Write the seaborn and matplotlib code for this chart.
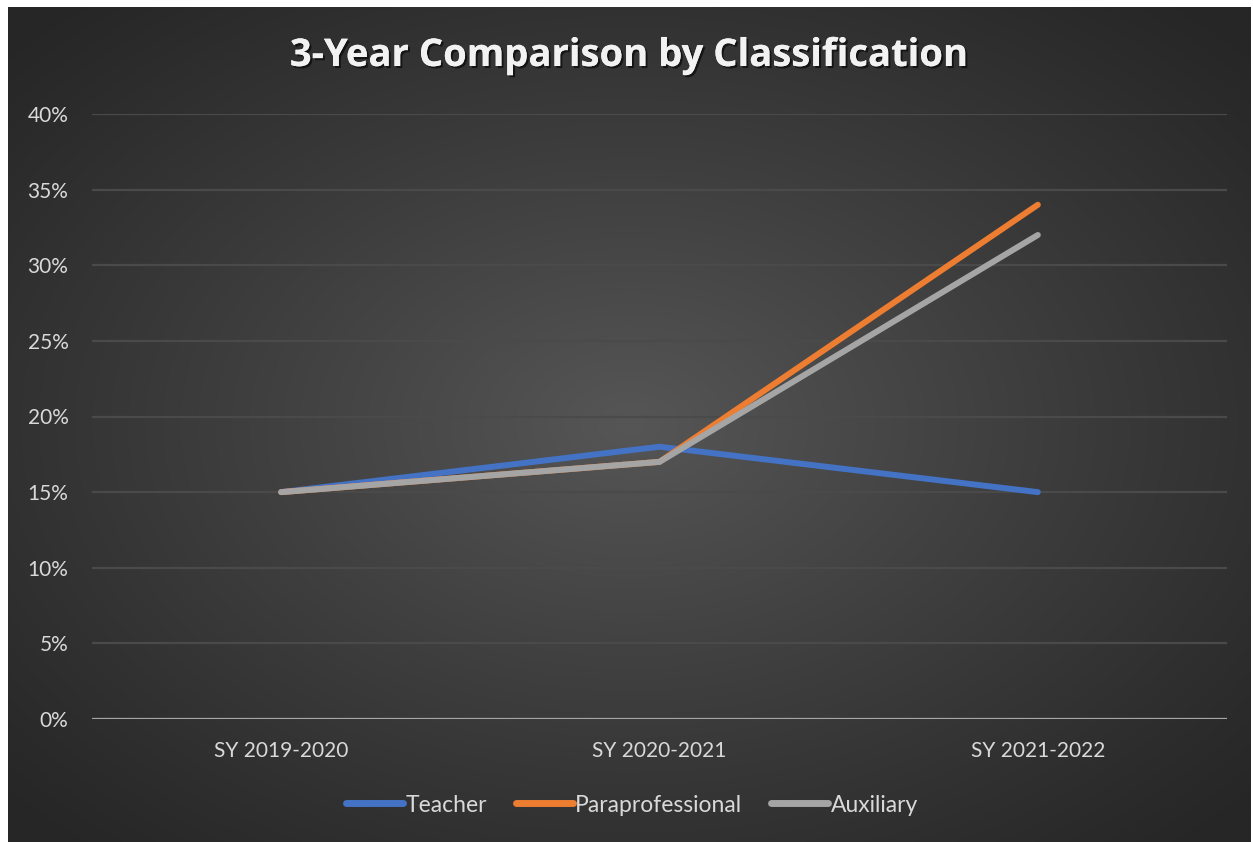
import numpy as np
import pandas as pd
import matplotlib
matplotlib.use("Agg")
import matplotlib.pyplot as plt
import matplotlib.patheffects as pe
from matplotlib.ticker import FuncFormatter
from matplotlib.lines import Line2D
import seaborn as sns

years = ["SY 2019-2020", "SY 2020-2021", "SY 2021-2022"]
teacher = [15, 18, 15]
paraprofessional = [15, 17, 34]
auxiliary = [15, 17, 32]
series_names = ["Teacher", "Paraprofessional", "Auxiliary"]
colors = ["#4472C4", "#ED7D31", "#A5A5A5"]
title = "3-Year Comparison by Classification"

rows = []
for name, vals in zip(series_names, [teacher, paraprofessional, auxiliary]):
    for i, (yr, v) in enumerate(zip(years, vals)):
        rows.append({"Year": yr, "pos": i + 0.5, "Value": v, "Series": name})
df = pd.DataFrame(rows)

sns.set_theme(style="dark")
plt.rcParams['font.family'] = ['Lato', 'DejaVu Sans']

W, H = 1253, 842
fig = plt.figure(figsize=(W / 100, H / 100), dpi=100, facecolor="white")

# background with radial gradient
bg = fig.add_axes([8 / W, 0, (W - 10) / W, (H - 7) / H])
bg.set_axis_off()
yy, xx = np.mgrid[-1:1:400j, -1:1:600j]
r = np.sqrt((xx * 0.95) ** 2 + (yy * 0.95) ** 2)
inner, outer = 0x56, 0x26
vals = outer + (inner - outer) * np.clip(1 - r / 1.3, 0, 1) ** 1.1
img = np.dstack([vals / 255.0] * 3)
bg.imshow(img, aspect="auto", extent=[0, 1, 0, 1], interpolation="bilinear")

ax = fig.add_axes([92 / W, 1 - 719 / H, (1227 - 92) / W, (719 - 114) / H])
ax.patch.set_alpha(0)
ax.set_zorder(2)

sns.lineplot(data=df, x="pos", y="Value", hue="Series", hue_order=series_names,
             palette=colors, linewidth=4.3, ax=ax, legend=False,
             sort=False, estimator=None)
for ln in ax.get_lines():
    ln.set_solid_capstyle("round")
    ln.set_solid_joinstyle("round")

ax.set_xlim(0, 3)
ax.set_ylim(0, 40)
ax.set_yticks(np.arange(0, 41, 5))
ax.yaxis.set_major_formatter(FuncFormatter(lambda v, p: f"{int(v)}%"))
ax.set_xticks([0.5, 1.5, 2.5])
ax.set_xticklabels(years)
ax.grid(axis="y", color="#4a4a4a", linewidth=1.6)
ax.grid(axis="x", visible=False)
ax.set_axisbelow(True)
for s in ax.spines.values():
    s.set_visible(False)
ax.axhline(0, color="#a6a6a6", linewidth=1.6, zorder=1)
ax.tick_params(axis="both", length=0, colors="#d9d9d9", labelsize=15)
ax.tick_params(axis="y", pad=17)
ax.tick_params(axis="x", pad=16)
ax.set_xlabel("")
ax.set_ylabel("")

fig.text(630 / W, 1 - 56 / H, title, ha="center", va="center", color="#f2f2f2",
         fontsize=27.5, fontweight="bold", family=["Open Sans", "DejaVu Sans"],
         path_effects=[pe.withSimplePatchShadow(offset=(1.5, -1.5), shadow_rgbFace="black", alpha=0.6), pe.Normal()])

handles = [Line2D([0], [0], color=c, linewidth=5, solid_capstyle="round") for c in colors]
leg = fig.legend(handles, series_names, loc="center", bbox_to_anchor=(632 / W, 1 - 805 / H),
                 ncol=3, frameon=False, fontsize=16.5, labelcolor="#d9d9d9",
                 handlelength=2.5, handletextpad=0.1, columnspacing=1.25)

fig.savefig("out.png", dpi=100, facecolor="white")
